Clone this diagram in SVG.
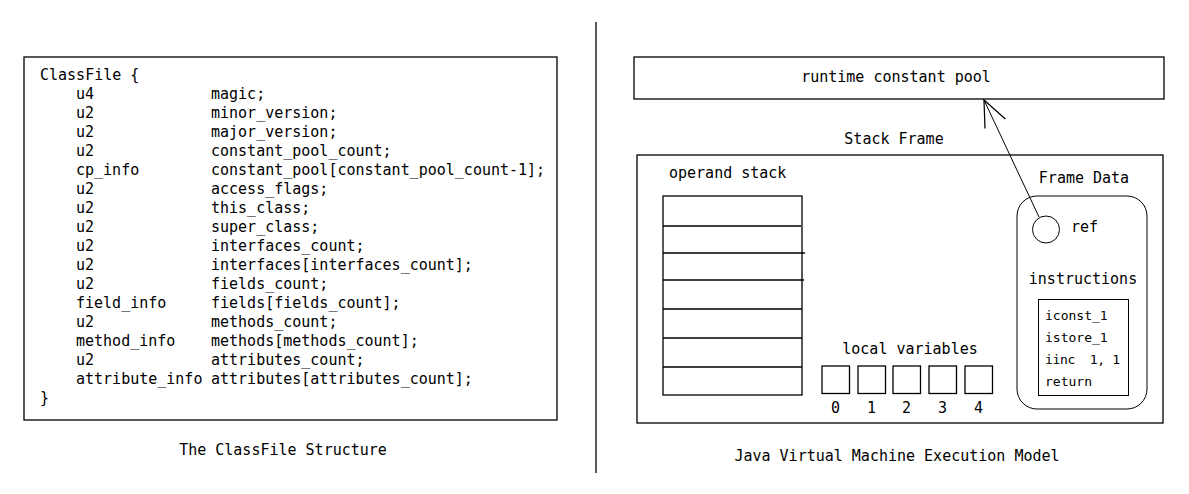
<svg xmlns="http://www.w3.org/2000/svg" width="1189" height="494" viewBox="0 0 1189 494">
<defs>
<style>
text{font-family:"DejaVu Sans Mono","Liberation Mono",monospace;font-size:15px;fill:#000;dominant-baseline:central;white-space:pre}
.c{text-anchor:middle}
.s{font-size:13px}
.b{fill:none;stroke:#000;stroke-width:1.3}
.t{fill:none;stroke:#000;stroke-width:1}
</style>
<marker id="arr" markerUnits="userSpaceOnUse" markerWidth="30" markerHeight="30" refX="0" refY="0" viewBox="-22 -11 24 22" orient="auto" overflow="visible">
<path d="M-21,-9 L0,0 L-21,9" fill="none" stroke="#000" stroke-width="1"/>
</marker>
</defs>
<rect width="1189" height="494" fill="#fff"/>
<line x1="596" y1="22" x2="596" y2="473" stroke="#000" stroke-width="1.3"/>

<g id="classfile">
<rect class="b" x="24" y="57" width="533" height="363"/>
<text x="40" y="75">ClassFile {</text>
<text x="76" y="94">u4</text><text x="211" y="94">magic;</text>
<text x="76" y="113">u2</text><text x="211" y="113">minor_version;</text>
<text x="76" y="132">u2</text><text x="211" y="132">major_version;</text>
<text x="76" y="151">u2</text><text x="211" y="151">constant_pool_count;</text>
<text x="76" y="170">cp_info</text><text x="211" y="170">constant_pool[constant_pool_count-1];</text>
<text x="76" y="189">u2</text><text x="211" y="189">access_flags;</text>
<text x="76" y="208">u2</text><text x="211" y="208">this_class;</text>
<text x="76" y="227">u2</text><text x="211" y="227">super_class;</text>
<text x="76" y="246">u2</text><text x="211" y="246">interfaces_count;</text>
<text x="76" y="265">u2</text><text x="211" y="265">interfaces[interfaces_count];</text>
<text x="76" y="284">u2</text><text x="211" y="284">fields_count;</text>
<text x="76" y="303">field_info</text><text x="211" y="303">fields[fields_count];</text>
<text x="76" y="322">u2</text><text x="211" y="322">methods_count;</text>
<text x="76" y="341">method_info</text><text x="211" y="341">methods[methods_count];</text>
<text x="76" y="360">u2</text><text x="211" y="360">attributes_count;</text>
<text x="76" y="379">attribute_info</text><text x="211" y="379">attributes[attributes_count];</text>
<text x="40" y="398">}</text>
</g>
<text class="c" x="283" y="450">The ClassFile Structure</text>

<g id="runtime-constant-pool">
<rect class="b" x="634" y="57" width="530" height="42"/>
<text class="c" x="896" y="77">runtime constant pool</text>
</g>

<g id="stack-frame">
<text class="c" x="894" y="139">Stack Frame</text>
<rect class="b" x="637" y="155" width="526" height="268"/>
</g>

<g id="operand-stack">
<text x="669" y="173">operand stack</text>
<rect class="b" x="663" y="196" width="139" height="199"/>
<line class="b" x1="663" y1="226" x2="801" y2="226"/>
<line class="b" x1="663" y1="253" x2="805" y2="253"/>
<line class="b" x1="663" y1="280" x2="804" y2="280"/>
<line class="b" x1="663" y1="309" x2="802" y2="309"/>
<line class="b" x1="663" y1="338" x2="802" y2="338"/>
<line class="b" x1="663" y1="367" x2="802" y2="367"/>
</g>

<g id="local-variables">
<text class="c" x="910" y="349">local variables</text>
<rect class="b" x="822" y="366" width="27.5" height="27.5"/>
<rect class="b" x="858" y="366" width="27.5" height="27.5"/>
<rect class="b" x="893" y="366" width="27.5" height="27.5"/>
<rect class="b" x="929" y="366" width="27.5" height="27.5"/>
<rect class="b" x="965" y="366" width="27.5" height="27.5"/>
<text class="c" x="835.5" y="408">0</text>
<text class="c" x="871.5" y="408">1</text>
<text class="c" x="906.5" y="408">2</text>
<text class="c" x="942.5" y="408">3</text>
<text class="c" x="978.5" y="408">4</text>
</g>

<g id="frame-data">
<text class="c" x="1084" y="178">Frame Data</text>
<rect class="t" x="1017" y="196" width="130" height="213" rx="20" ry="20"/>
</g>

<g id="ref">
<circle class="t" cx="1046" cy="229.5" r="13.5"/>
<text x="1071" y="227">ref</text>
</g>

<g id="instructions">
<text class="c" x="1083" y="279">instructions</text>
<rect class="t" x="1038.5" y="299.5" width="90" height="96"/>
<text class="s" x="1045" y="315">iconst_1</text>
<text class="s" x="1045" y="337">istore_1</text>
<text class="s" x="1045" y="359" textLength="75" lengthAdjust="spacing">iinc  1, 1</text>
<text class="s" x="1045" y="381">return</text>
</g>

<g id="connectors">
<line x1="1039" y1="217" x2="984" y2="100" stroke="#000" stroke-width="1" marker-end="url(#arr)"/>
</g>

<text class="c" x="897" y="456">Java Virtual Machine Execution Model</text>
</svg>
